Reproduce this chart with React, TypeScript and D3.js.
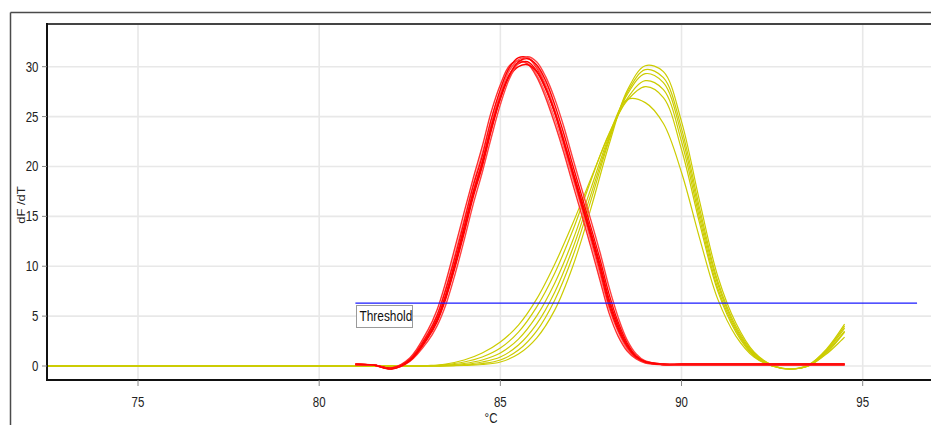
import React from "react";
import * as d3 from "d3";

// ---- data ----
const xTicks = [75, 80, 85, 90, 95];
const yTicks = [0, 5, 10, 15, 20, 25, 30];
const thresholdValue = 6.3;
const thresholdRange = [81.0, 96.5];

const redTemps = [81, 81.5, 82, 82.5,
  83, 83.25, 83.5, 83.75, 84, 84.25, 84.5, 84.75, 85, 85.25, 85.5, 85.75, 86, 86.25, 86.5, 86.75, 87, 87.25, 87.5, 87.75, 88, 88.25, 88.5, 88.75, 89,
  89.5, 90, 91, 92, 93, 94, 94.5];
const red0 = [0.15, 0.1, -0.25, 0.6,
  3.0, 4.7, 7.3, 10.5, 14.0, 17.6, 20.6, 24.3, 27.3, 29.6, 30.7, 30.9, 30.0, 28.2, 25.7, 22.7, 19.5, 16.4, 13.3, 10.0, 6.5, 3.9, 2.0, 0.9, 0.4,
  0.15, 0.15, 0.15, 0.15, 0.15, 0.15, 0.15];
const red1 = [0.15, 0.1, -0.2, 0.8,
  3.6, 5.6, 8.5, 11.9, 15.4, 18.8, 22.0, 25.5, 28.2, 30.1, 30.6, 30.3, 29.0, 26.9, 24.3, 21.4, 18.2, 15.1, 11.9, 8.6, 5.3, 3.0, 1.5, 0.7, 0.3,
  0.15, 0.15, 0.15, 0.15, 0.15, 0.15, 0.15];
const red2 = [0.15, 0.1, -0.3, 0.45,
  2.5, 4.0, 6.2, 9.2, 12.6, 16.2, 19.4, 22.9, 26.2, 28.8, 30.4, 31.0, 30.5, 29.0, 26.8, 24.0, 20.8, 17.7, 14.6, 11.4, 7.9, 4.9, 2.6, 1.2, 0.5,
  0.2, 0.2, 0.2, 0.2, 0.2, 0.2, 0.2];
const red3 = [0.15, 0.1, -0.2, 0.7,
  3.3, 5.1, 7.9, 11.2, 14.7, 18.2, 21.3, 24.8, 27.6, 29.7, 30.4, 30.3, 29.2, 27.3, 24.8, 21.9, 18.8, 15.7, 12.5, 9.2, 5.8, 3.4, 1.7, 0.8, 0.35,
  0.1, 0.1, 0.1, 0.1, 0.1, 0.1, 0.1];
const red4 = [0.2, 0.1, -0.3, 0.5,
  2.8, 4.4, 6.8, 9.9, 13.3, 16.9, 20.0, 23.6, 26.8, 29.2, 30.5, 30.8, 30.2, 28.6, 26.2, 23.3, 20.1, 17.0, 13.9, 10.7, 7.2, 4.4, 2.3, 1.0, 0.45,
  0.2, 0.2, 0.2, 0.2, 0.2, 0.2, 0.2];
const red5 = [0.15, 0.1, -0.25, 0.6,
  3.0, 4.7, 7.2, 10.4, 13.9, 17.4, 20.4, 24.0, 27.0, 29.2, 30.3, 30.5, 29.6, 27.8, 25.4, 22.4, 19.3, 16.2, 13.1, 9.9, 6.4, 3.8, 2.0, 0.9, 0.4,
  0.15, 0.15, 0.15, 0.15, 0.15, 0.15, 0.15];
const red6 = [0.15, 0.1, -0.2, 0.65,
  3.2, 5.0, 7.7, 10.9, 14.4, 18.0, 21.0, 24.7, 27.7, 29.9, 30.9, 30.9, 29.9, 28.0, 25.4, 22.4, 19.2, 16.0, 12.9, 9.6, 6.1, 3.6, 1.9, 0.85, 0.4,
  0.15, 0.15, 0.15, 0.15, 0.15, 0.15, 0.15];
const red7 = [0.15, 0.1, -0.25, 0.55,
  2.9, 4.5, 7.0, 10.1, 13.6, 17.2, 20.2, 23.8, 26.8, 29.0, 30.0, 30.2, 29.5, 27.8, 25.5, 22.6, 19.5, 16.5, 13.4, 10.2, 6.7, 4.1, 2.1, 0.95, 0.45,
  0.15, 0.15, 0.15, 0.15, 0.15, 0.15, 0.15];

const yellowTemps = [72.5, 82, 82.5, 83, 83.5, 84, 84.5, 85, 85.5, 86, 86.5, 87, 87.5, 88, 88.5, 89, 89.5, 90, 90.5, 91, 91.5, 92, 92.5, 93, 93.5, 94, 94.5];
const yellow1 = [0, 0, 0, 0, 0, 0.05, 0.15, 0.4, 1.2, 2.8, 5.6, 10.0, 15.8, 22.2, 27.6, 30.1, 29.5, 24.5, 16.5, 9.0, 4.3, 1.4, 0.1, -0.3, 0.0, 1.3, 3.4];
const yellow2 = [0, 0, 0, 0, 0, 0.1, 0.25, 0.6, 1.6, 3.5, 6.6, 11.0, 16.6, 22.6, 27.4, 29.7, 28.9, 23.8, 15.8, 8.5, 4.0, 1.3, 0.1, -0.3, 0.05, 1.5, 3.8];
const yellow3 = [0, 0, 0, 0, 0.05, 0.15, 0.4, 0.9, 2.1, 4.2, 7.4, 11.8, 17.2, 22.8, 27.2, 29.3, 28.4, 23.2, 15.3, 8.2, 3.8, 1.2, 0.05, -0.3, 0.1, 1.6, 4.0];
const yellow4 = [0, 0, 0, 0, 0.1, 0.25, 0.6, 1.3, 2.7, 5.0, 8.3, 12.6, 17.8, 23.0, 26.8, 28.6, 27.7, 22.5, 14.8, 7.8, 3.6, 1.1, 0.0, -0.3, 0.1, 1.7, 4.2];
const yellow5 = [0, 0, 0, 0.05, 0.15, 0.4, 0.9, 1.8, 3.4, 5.9, 9.3, 13.6, 18.6, 23.3, 26.6, 28.0, 26.9, 21.7, 14.3, 7.5, 3.4, 1.0, 0.0, -0.3, 0.0, 1.4, 3.5];
const yellow6 = [0, 0, 0, 0, 0.2, 0.6, 1.3, 2.4, 4.1, 6.7, 10.2, 14.3, 18.8, 23.2, 26.7, 26.4, 24.3, 19.4, 12.8, 6.7, 3.0, 0.9, 0.0, -0.3, 0.0, 1.2, 2.9];

const redSeries = [red3, red1, red6, red0, red7, red5, red2, red4];
const redColors = ["#ff6a6a", "#ff3030", "#ff0000", "#ff5050", "#ff0000", "#ff0000", "#ff4040", "#ff0000"];
const yellowSeries = [yellow6, yellow5, yellow4, yellow3, yellow2, yellow1];

const W = 931;
const H = 425;
const plotLeft = 47;
const plotTop = 24;
const plotBottom = 380;

const FONT = "'Liberation Sans', Arial, Helvetica, sans-serif";

export default function App() {
  const x = d3.scaleLinear().domain([75, 95]).range([138, 862.7]);
  const y = d3.scaleLinear().domain([0, 30]).range([366, 66.7]);

  const line = d3
    .line<[number, number]>()
    .x((d) => x(d[0]))
    .y((d) => y(d[1]))
    .curve(d3.curveCatmullRom.alpha(0.5));

  const redPaths = redSeries.map((vals) =>
    line(redTemps.map((t, i) => [t, vals[i]] as [number, number])) || ""
  );
  const yellowPaths = yellowSeries.map((vals) =>
    line(yellowTemps.map((t, i) => [t, vals[i]] as [number, number])) || ""
  );

  const ty = y(thresholdValue);
  const tx0 = x(thresholdRange[0]);
  const tx1 = x(thresholdRange[1]);

  return (
    <svg
      width={W}
      height={H}
      viewBox={`0 0 ${W} ${H}`}
      style={{ position: "absolute", left: 0, top: 0, display: "block", background: "#fff" }}
    >
      <defs>
        <clipPath id="plotClip">
          <rect x={plotLeft} y={plotTop} width={W - plotLeft} height={plotBottom - plotTop} />
        </clipPath>
      </defs>
      <rect x={0} y={0} width={W} height={H} fill="#fff" />

      {/* outer frame */}
      <line x1={10.5} y1={12.5} x2={W} y2={12.5} stroke="#4a4a4a" strokeWidth={1.5} />
      <line x1={10.5} y1={12.5} x2={10.5} y2={H} stroke="#4a4a4a" strokeWidth={1.5} />

      {/* grid */}
      <g clipPath="url(#plotClip)">
        {xTicks.map((t) => (
          <line key={"gx" + t} x1={x(t)} x2={x(t)} y1={plotTop} y2={plotBottom} stroke="#e8e8e8" strokeWidth={1.6} />
        ))}
        {yTicks.map((t) => (
          <line key={"gy" + t} x1={plotLeft} x2={W} y1={y(t)} y2={y(t)} stroke="#e8e8e8" strokeWidth={1.6} />
        ))}
      </g>

      {/* curves */}
      <g clipPath="url(#plotClip)" fill="none">
        {yellowPaths.map((p, i) => (
          <path key={"y" + i} d={p} stroke="#cccc00" strokeWidth={1.2} />
        ))}
        {redPaths.map((p, i) => (
          <path key={"r" + i} d={p} stroke={redColors[i]} strokeWidth={1.4} />
        ))}
        <line x1={tx0} x2={tx1} y1={ty} y2={ty} stroke="#1a1aff" strokeWidth={1.4} />
      </g>

      {/* threshold label */}
      <rect x={356.5} y={305.5} width={56} height={22} fill="#fff" stroke="#9a9a9a" strokeWidth={1} />
      <text
        transform={`translate(359.5,320.5) scale(0.82,1)`}
        fontFamily={FONT}
        fontSize={14.5}
        fill="#111"
      >
        Threshold
      </text>

      {/* axes */}
      <line x1={plotLeft} y1={plotTop} x2={W} y2={plotTop} stroke="#444" strokeWidth={2} />
      <line x1={plotLeft} y1={plotTop - 1} x2={plotLeft} y2={plotBottom + 1} stroke="#111" strokeWidth={2} />
      <line x1={plotLeft - 1} y1={plotBottom} x2={W} y2={plotBottom} stroke="#111" strokeWidth={2} />

      {/* y ticks */}
      {yTicks.map((t) => (
        <g key={"yt" + t}>
          <line x1={42} x2={plotLeft} y1={y(t)} y2={y(t)} stroke="#888" strokeWidth={1} />
          <text
            transform={`translate(38.5,${y(t) + 5}) scale(0.82,1)`}
            textAnchor="end"
            fontFamily={FONT}
            fontSize={14}
            fill="#222"
          >
            {t}
          </text>
        </g>
      ))}

      {/* x ticks */}
      {xTicks.map((t) => (
        <g key={"xt" + t}>
          <line x1={x(t)} x2={x(t)} y1={plotBottom} y2={plotBottom + 6} stroke="#888" strokeWidth={1} />
          <text
            transform={`translate(${x(t)},407) scale(0.82,1)`}
            textAnchor="middle"
            fontFamily={FONT}
            fontSize={14}
            fill="#222"
          >
            {t}
          </text>
        </g>
      ))}

      {/* axis titles */}
      <text
        transform={`translate(491,422.5) scale(0.82,1)`}
        textAnchor="middle"
        fontFamily={FONT}
        fontSize={14}
        fill="#222"
      >
        °C
      </text>
      <text
        transform={`translate(25,205) rotate(-90) scale(1,0.82)`}
        textAnchor="middle"
        fontFamily={FONT}
        fontSize={13}
        fill="#222"
      >
        dF /dT
      </text>
    </svg>
  );
}
